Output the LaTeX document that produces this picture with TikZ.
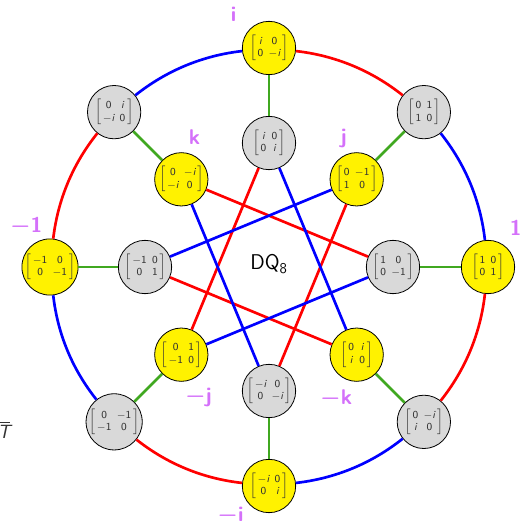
\documentclass[tikz,border=0pt]{standalone}
\usepackage{amsmath}
\usepackage{tikz}
\usetikzlibrary{positioning}

\definecolor{elgreen}{RGB}{64,168,32}
\definecolor{elpurple}{RGB}{212,112,250}
\newcommand{\iu}{\textsf{\itshape i}}
\newcommand{\qm}[4]{$\left[\begin{array}{@{\,}c@{\hspace{4pt}}c@{\,}}\mathsf{#1}&\mathsf{#2}\\\mathsf{#3}&\mathsf{#4}\end{array}\right]$}
\newcommand{\ml}{{\boldmath$-$}}

\begin{document}
\begin{tikzpicture}[
        x=0.75pt, y=0.75pt,
        every node/.style={font=\footnotesize},
        yel/.style={circle, draw, line width=0.6pt, fill=yellow, text=black!80, minimum size=40pt, inner sep=0pt},
        gry/.style={circle, draw, line width=0.6pt, fill=gray!30, text=black!80, minimum size=40pt, inner sep=0pt},
        lab/.style={text=elpurple, font=\fontsize{16}{19}\selectfont\sffamily\bfseries, inner sep=0pt},
        rim/.style={bend right=16, looseness=0.88},
        rd/.style={red, line width=2pt},
        bl/.style={blue, line width=2pt},
        gr/.style={elgreen, line width=2pt}
    ]
    \useasboundingbox (-269,-257) rectangle (252,267);

    % Outer ring
    \node[yel, label={[lab, label distance=8pt]55:{1}}] (one) at (0:219) {\qm{1}{0}{0}{1}};
    \node[gry] (a1) at (45:219) {\qm{0}{1}{1}{0}};
    \node[yel, label={[lab, label distance=11pt]141:{i}}] (ii) at (90:219) {\qm{\iu}{0}{0}{-\iu}};
    \node[gry] (a2) at (135:219) {\qm{0}{\iu}{-\iu}{0}};
    \node[yel, label={[lab, label distance=3pt]103:{\ml1}}] (mone) at (180:219) {\qm{-1}{0}{0}{-1}};
    \node[gry] (a3) at (225:219) {\qm{0}{-1}{-1}{0}};
    \node[yel, label={[lab, label distance=4pt]219:{\ml i}}] (mii) at (270:219) {\qm{-\iu}{0}{0}{\iu}};
    \node[gry] (a4) at (315:219) {\qm{0}{-\iu}{\iu}{0}};

    % Inner ring
    \node[gry] (b1) at (0:124) {\qm{1}{0}{0}{-1}};
    \node[yel, label={[lab, label distance=4.5pt]107:{j}}] (jj) at (45:124) {\qm{0}{-1}{1}{0}};
    \node[gry] (b2) at (90:124) {\qm{\iu}{0}{0}{\iu}};
    \node[yel, label={[lab, label distance=6pt]78:{k}}] (kk) at (135:124) {\qm{0}{-\iu}{-\iu}{0}};
    \node[gry] (b3) at (180:124) {\qm{-1}{0}{0}{1}};
    \node[yel, label={[lab, label distance=4.5pt]276:{\ml j}}] (mjj) at (225:124) {\qm{0}{1}{-1}{0}};
    \node[gry] (b4) at (270:124) {\qm{-\iu}{0}{0}{-\iu}};
    \node[yel, label={[lab, label distance=6pt]263:{\ml k}}] (mkk) at (315:124) {\qm{0}{\iu}{\iu}{0}};

    \node[font=\fontsize{16}{19}\selectfont\sffamily] (name) at (0,3) {DQ\textsubscript{8}};
    \node[font=\Large, text=black!80] (tbar) at (-265,-163) {$\overline{\textsf{\itshape T}}$};

    % Arcs of the outer ring
    \draw[bl] (one) to[rim] (a1);
    \draw[rd] (a1) to[rim] (ii);
    \draw[bl] (ii) to[rim] (a2);
    \draw[rd] (a2) to[rim] (mone);
    \draw[bl] (mone) to[rim] (a3);
    \draw[rd] (a3) to[rim] (mii);
    \draw[bl] (mii) to[rim] (a4);
    \draw[rd] (a4) to[rim] (one);

    % Spokes
    \draw[gr] (one) -- (b1);
    \draw[gr] (a1) -- (jj);
    \draw[gr] (ii) -- (b2);
    \draw[gr] (a2) -- (kk);
    \draw[gr] (mone) -- (b3);
    \draw[gr] (a3) -- (mjj);
    \draw[gr] (mii) -- (b4);
    \draw[gr] (a4) -- (mkk);

    % Inner star
    \draw[rd] (b2) -- (mjj);
    \draw[rd] (kk) -- (b1);
    \draw[rd] (jj) -- (b4);
    \draw[rd] (b3) -- (mkk);
    \draw[bl] (b2) -- (mkk);
    \draw[bl] (kk) -- (b4);
    \draw[bl] (jj) -- (b3);
    \draw[bl] (mjj) -- (b1);

\end{tikzpicture}
\end{document}
